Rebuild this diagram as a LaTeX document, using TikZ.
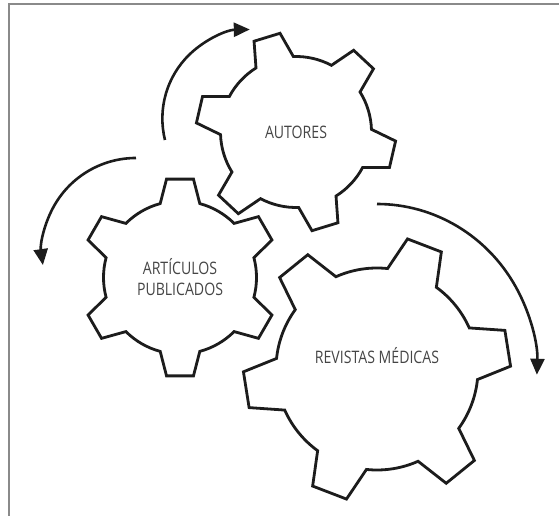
\documentclass[tikz,border=0pt]{standalone}
\usepackage{fontspec}
\newfontfamily\gearfont{Open Sans}[FakeStretch=0.82]
\usetikzlibrary{arrows.meta, calc}
\definecolor{cline}{HTML}{1c1c1c}
\definecolor{ctext}{HTML}{454545}
\definecolor{cframe}{HTML}{8a8a8a}

% #1 centre, #2 tip radius, #3 root radius, #4 angle of first tooth
\newcommand{\gearoutline}[4]{%
  \draw[gear, shift={(#1)}] (#4-15:#3)
    \foreach \k [evaluate=\k as \t using #4+60*\k] in {0,...,5} {
      -- (\t-7.8:#2) -- (\t+7.8:#2) -- (\t+15:#3)
      arc[start angle=\t+15, end angle=\t+45, radius=#3]
    } -- cycle;}

\begin{document}
\begin{tikzpicture}[
  x=1pt, y=1pt,
  gear/.style={draw=cline, line width=2.8pt},
  arr/.style={draw=cline, line width=2.6pt, -{Triangle[length=16pt, width=14pt]}},
  gtext/.style={font=\gearfont\fontsize{17.2}{21}\selectfont, text=ctext,
                inner sep=0pt, align=center},
  framerule/.style={draw=cframe, line width=1.2pt},
  ]
\useasboundingbox (0,0) rectangle (559,516);
\draw[framerule] (9,0) |- (559,512);

\coordinate (g1) at (296,384);
\coordinate (g2) at (180,238.5);
\coordinate (g3) at (377,147);

\gearoutline{g1}{100pt}{75.5pt}{47}
\gearoutline{g2}{99.3pt}{76.5pt}{30}
\gearoutline{g3}{133.6pt}{101pt}{9}

\node[gtext] (autores) at (g1) {AUTORES};
\node[gtext] (articulos) at (g2) {ARTÍCULOS\\PUBLICADOS};
\node[gtext, anchor=base] (revistas) at ($(g3)+(0,5)$) {REVISTAS MÉDICAS};

% rotation arrows
\coordinate (a1) at (165,376);
\coordinate (a2) at (136,358);
\coordinate (a3) at (377,312);
\draw[arr] (a1) arc[start angle=194, end angle=91, radius=89pt];
\draw[arr] (a2) arc[start angle=90, end angle=188, radius=94pt];
\draw[arr] (a3) arc[start angle=90, end angle=-2, x radius=160pt, y radius=165pt];
\end{tikzpicture}
\end{document}
